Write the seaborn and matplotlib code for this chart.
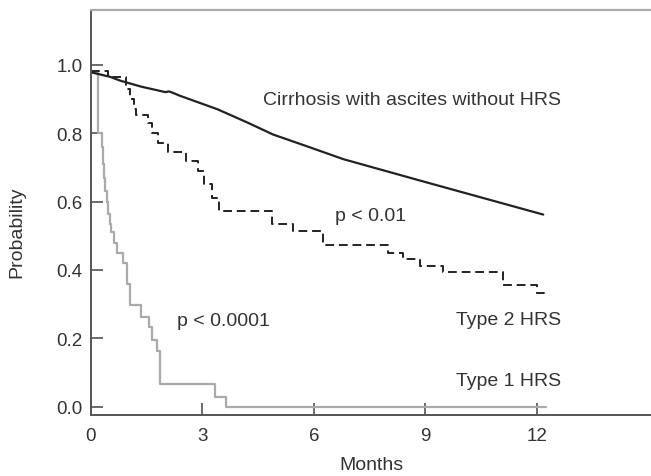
import numpy as np
import pandas as pd
import matplotlib
matplotlib.use('Agg')
import matplotlib.pyplot as plt
import seaborn as sns

# Datos (meses, probabilidad de supervivencia)
sin_hrs_meses = [0, 0.5, 0.8, 1.35, 2.0, 2.1, 2.2, 2.4, 3.4, 4.19, 4.9, 5.8, 6.79, 9.0, 12.17]
sin_hrs_prob = [0.978, 0.965, 0.953, 0.936, 0.92, 0.922, 0.918, 0.909, 0.87, 0.832,
                0.796, 0.762, 0.724, 0.657, 0.562]

tipo2_meses = [0, 0.46, 0.95, 1.05, 1.15, 1.2, 1.53, 1.65, 1.8, 2.08, 2.56, 2.88, 3.05,
               3.25, 3.45, 4.88, 5.44, 6.25, 8.0, 8.4, 8.85, 9.48, 11.09, 11.99, 12.26]
tipo2_prob = [0.982, 0.963, 0.93, 0.90, 0.87, 0.854, 0.83, 0.80, 0.77, 0.744, 0.72, 0.69,
              0.65, 0.61, 0.571, 0.534, 0.513, 0.473, 0.451, 0.432, 0.412, 0.393, 0.356,
              0.334, 0.334]

tipo1_meses = [0, 0.18, 0.30, 0.33, 0.36, 0.39, 0.42, 0.46, 0.50, 0.55, 0.61, 0.69, 0.87,
               0.96, 1.05, 1.35, 1.56, 1.65, 1.77, 1.86, 3.34, 3.62, 12.24]
tipo1_prob = [0.975, 0.80, 0.76, 0.71, 0.67, 0.63, 0.60, 0.565, 0.535, 0.51, 0.48, 0.45,
              0.42, 0.36, 0.298, 0.264, 0.232, 0.196, 0.164, 0.068, 0.029, 0.0, 0.0]

x_ticks = [0, 3, 6, 9, 12]
y_ticks = [0.0, 0.2, 0.4, 0.6, 0.8, 1.0]

sns.set_style('ticks')
plt.rcParams['font.family'] = ['Liberation Sans', 'DejaVu Sans']

fig = plt.figure(figsize=(6.51, 4.77), dpi=100)
ax = fig.add_axes([91 / 651, 1 - 415.7 / 477, 560 / 651, (415.7 - 11) / 477])

df1 = pd.DataFrame({'meses': tipo1_meses, 'prob': tipo1_prob})
df2 = pd.DataFrame({'meses': tipo2_meses, 'prob': tipo2_prob})
df0 = pd.DataFrame({'meses': sin_hrs_meses, 'prob': sin_hrs_prob})

sns.lineplot(data=df1, x='meses', y='prob', ax=ax, color='#aaaaaa', linewidth=1.6,
             drawstyle='steps-post', estimator=None)
sns.lineplot(data=df2, x='meses', y='prob', ax=ax, color='#222222', linewidth=1.4,
             linestyle=(0, (4.5, 2.5)), drawstyle='steps-post', estimator=None)
sns.lineplot(data=df0, x='meses', y='prob', ax=ax, color='#222222', linewidth=1.6,
             estimator=None)

ax.set_xlim(0, 15.07)
ax.set_ylim(-0.023, 1.16)
ax.set_xticks(x_ticks)
ax.set_yticks(y_ticks)
ax.set_yticklabels([f'{v:.1f}' for v in y_ticks])
ax.tick_params(direction='in', length=8.5, width=1.1, color='#444444',
               labelsize=13.5, labelcolor='#333333', pad=6)
ax.tick_params(axis='x', pad=9)

for lado in ['left', 'bottom']:
    ax.spines[lado].set_color('#555555')
    ax.spines[lado].set_linewidth(1.4)
ax.spines['top'].set_color('#aaaaaa')
ax.spines['top'].set_linewidth(1.6)
ax.spines['right'].set_visible(False)

ax.set_xlabel('Months', fontsize=14, color='#333333', labelpad=8.5)
ax.set_ylabel('Probability', fontsize=14, color='#333333')
ax.yaxis.set_label_coords(-0.118, 0.453)

txt = dict(fontsize=14, color='#333333', va='center')
ax.text(12.64, 0.897, 'Cirrhosis with ascites without HRS', ha='right', **txt)
ax.text(6.56, 0.558, 'p < 0.01', ha='left', **txt)
ax.text(2.31, 0.251, 'p < 0.0001', ha='left', **txt)
ax.text(12.64, 0.256, 'Type 2 HRS', ha='right', **txt)
ax.text(12.64, 0.076, 'Type 1 HRS', ha='right', **txt)

fig.savefig('out.png', dpi=100)
